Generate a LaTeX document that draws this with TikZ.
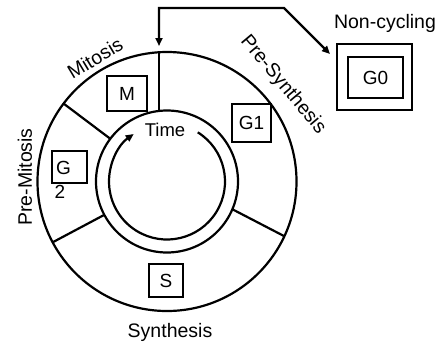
\documentclass[tikz,border=0pt]{standalone}
\usepackage{fontspec}
\setmainfont{Liberation Sans}
\usetikzlibrary{arrows.meta,calc}

\tikzset{
  ring/.style={line width=2.2pt},
  phasebox/.style={draw, line width=2.2pt, inner sep=0pt, font=\fontsize{19}{21}\selectfont},
  phaselabel/.style={font=\fontsize{19.5}{22}\selectfont, inner sep=0pt},
  link/.style={line width=2.2pt, {Triangle[length=8pt,width=7pt]}-{Triangle[length=8pt,width=7pt]}},
}

\begin{document}
\begin{tikzpicture}[x=1pt,y=1pt]
\useasboundingbox (0,0) rectangle (438,-349);

% cycle centre and ring radii
\coordinate (c) at (167,-181.5);
\def\Rout{129.5}
\def\Rmid{71}
\def\Rin{58}

% outer and middle circles
\draw[ring] (c) circle (\Rout);
\draw[ring] (c) circle (\Rmid);

% phase dividers across the ring
\draw[ring] (159,-52.3) -- (159,-111);
\draw[ring] ($(c)+(143:\Rout)$) -- ($(c)+(143:\Rmid)$);
\draw[ring] ($(c)+(208:\Rout)$) -- ($(c)+(208:\Rmid)$);
\draw[ring] ($(c)+(-25:\Rout)$) -- ($(c)+(-23:\Rmid)$);

% inner time arrow, running clockwise
\draw[line width=2.2pt, -{Triangle[length=8pt,width=7pt]}]
  ($(c)+(58:\Rin)$) arc[start angle=58, end angle=-235, radius=\Rin];
\node[phaselabel, font=\fontsize{18.5}{21}\selectfont] (time) at (165,-130) {Time};

% phase boxes
\node[phasebox, minimum width=40pt, minimum height=35pt] (m) at (127,-93.5) {M};
\node[phasebox, minimum width=39pt, minimum height=38pt] (g1) at (251.5,-123) {G1};
\node[phasebox, minimum width=35pt, minimum height=32pt] (g2) at (69.5,-167) {};
\node[font=\fontsize{19}{21}\selectfont, inner sep=0pt] (g2g) at (63.5,-168) {G};
\node[font=\fontsize{19}{21}\selectfont, inner sep=0pt] (g2n) at (60,-192) {2};
\node[phasebox, minimum width=34pt, minimum height=33pt] (s) at (166,-280.5) {S};

% non-cycling state
\node[phasebox, minimum width=75pt, minimum height=66pt] (g0out) at (374.5,-77) {};
\node[phasebox, minimum width=55pt, minimum height=41pt] (g0) at (375.5,-77.5) {G0};
\node[phaselabel] (nc) at (385,-23) {Non-cycling};

% phase names
\node[phaselabel, rotate=31] (mit) at (95,-58) {Mitosis};
\node[phaselabel, rotate=-50] (presyn) at (283,-85) {Pre-Synthesis};
\node[phaselabel, rotate=90] (premit) at (25,-177) {Pre-Mitosis};
\node[phaselabel] (syn) at (170,-332) {Synthesis};

% exchange between the cycle and G0
\coordinate (top) at (159,-46);
\coordinate (k1) at (159,-8);
\coordinate (k2) at (284,-8);
\coordinate (g0tip) at (330,-54);
\draw[link] (g0tip) -- (k2) -- (k1) -- (top);
\end{tikzpicture}
\end{document}
